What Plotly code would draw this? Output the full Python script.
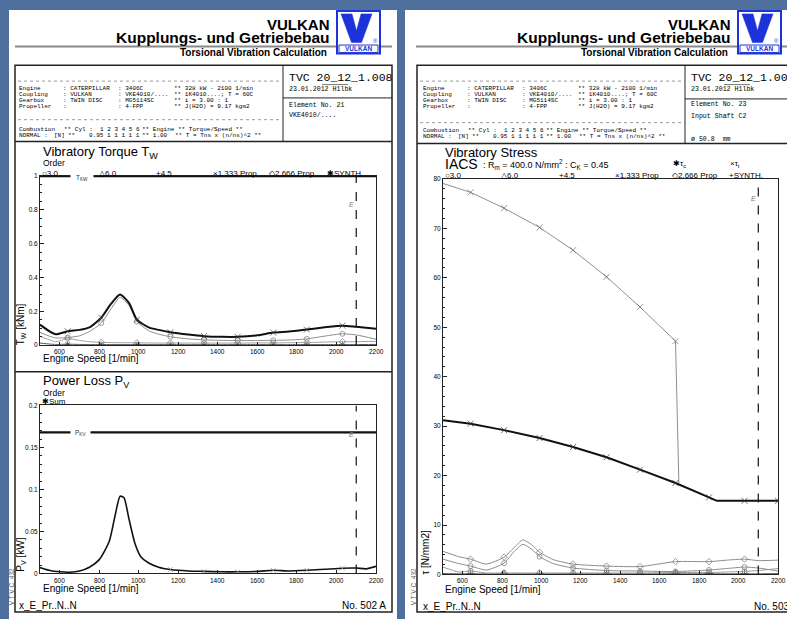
import plotly.graph_objects as go

SANS = "Liberation Sans, Arial, sans-serif"
MONO = "Liberation Mono, Courier New, monospace"

# ---------------- data ----------------
x_ticks = [600, 800, 1000, 1200, 1400, 1600, 1800, 2000, 2200]
rated_speed = 2100

# Chart 1: vibratory torque TW [kNm]
speed_tw = [500, 550, 580, 640, 700, 750, 810, 860, 905, 950, 990, 1050, 1100,
            1160, 1250, 1330, 1420, 1500, 1600, 1680, 1760, 1850, 1940, 2030, 2100, 2200]
tw_synth = [0.121, 0.080, 0.064, 0.082, 0.090, 0.105, 0.162, 0.245, 0.299, 0.250, 0.150, 0.105, 0.090,
            0.076, 0.062, 0.053, 0.049, 0.049, 0.058, 0.074, 0.080, 0.092, 0.105, 0.115, 0.108, 0.096]
tw_1333 = [0.075, 0.052, 0.042, 0.045, 0.055, 0.080, 0.130, 0.215, 0.283, 0.235, 0.140, 0.085, 0.065,
           0.049, 0.037, 0.031, 0.028, 0.027, 0.027, 0.028, 0.030, 0.037, 0.053, 0.067, 0.060, 0.035]
tw_2666 = [0.052, 0.030, 0.020, 0.038, 0.028, 0.020, 0.016, 0.015, 0.014, 0.014, 0.013, 0.013, 0.012,
           0.012, 0.012, 0.012, 0.012, 0.012, 0.013, 0.013, 0.014, 0.015, 0.018, 0.020, 0.020, 0.022]
tw_30 = [0.012, 0.006, 0.004, 0.005, 0.004, 0.003, 0.003, 0.003, 0.003, 0.003, 0.003, 0.003, 0.003,
         0.003, 0.003, 0.003, 0.003, 0.003, 0.003, 0.003, 0.003, 0.003, 0.003, 0.003, 0.003, 0.004]
mark_speeds = [640, 810, 990, 1160, 1330, 1500, 1680, 1850, 2030]
tkw_limit = 1.0

# Chart 2: power loss PV [kW]
speed_pv = [500, 550, 600, 650, 700, 750, 800, 850, 880, 905, 925, 950, 980, 1010, 1050,
            1100, 1160, 1250, 1330, 1420, 1500, 1600, 1680, 1760, 1850, 1940, 2030, 2100, 2150, 2200]
pv_sum = [0.0070, 0.0035, 0.0020, 0.0015, 0.0030, 0.0075, 0.0165, 0.0380, 0.0690, 0.0920, 0.0900,
          0.0650, 0.0360, 0.0200, 0.0125, 0.0075, 0.0047, 0.0030, 0.0025, 0.0020, 0.0020, 0.0025,
          0.0038, 0.0030, 0.0038, 0.0050, 0.0063, 0.0065, 0.0055, 0.0085]
pkv_limit = 0.168

# Chart 3: vibratory stress tau [N/mm2]
speed_tau_t = [500, 640, 810, 990, 1160, 1330, 1500, 1680, 1697]
tau_t = [79.1, 77.3, 74.1, 70.2, 65.6, 60.2, 54.1, 47.2, 18.4]
speed_tau_c = [500, 640, 810, 990, 1160, 1330, 1500, 1680, 1850, 1890, 2030, 2200]
tau_c = [31.2, 30.5, 29.2, 27.6, 25.8, 23.7, 21.2, 18.5, 15.6, 14.9, 14.9, 14.9]
speed_tau = [500, 580, 640, 720, 810, 860, 905, 950, 990, 1060, 1160, 1330, 1500, 1680, 1850, 1940, 2030, 2100, 2200]
tau_2666 = [4.7, 3.6, 3.1, 2.1, 3.5, 5.4, 7.0, 6.0, 4.5, 3.0, 2.1, 1.7, 1.6, 2.6, 2.6, 2.9, 3.1, 2.8, 2.9]
tau_1333 = [3.1, 2.2, 1.7, 0.9, 2.3, 4.6, 6.1, 5.1, 3.6, 2.2, 1.3, 0.8, 0.7, 0.6, 0.9, 1.2, 1.5, 1.3, 0.7]
tau_30 = [1.5, 0.5, 0.7, 0.3, 0.3, 0.3, 0.3, 0.3, 0.3, 0.3, 0.3, 0.3, 0.3, 0.4, 0.4, 0.5, 0.6, 0.8, 1.2]
tau_60 = [0.2, 0.15, 0.15, 0.15, 0.15, 0.15, 0.15, 0.15, 0.15, 0.15, 0.15, 0.15, 0.15, 0.15, 0.15, 0.15, 0.15, 0.15, 0.2]

# info block text
info_rows = [
    ["Engine", ": CATERPILLAR", ": 3406C", "** 328 kW - 2100 1/min"],
    ["Coupling", ": VULKAN", ": VKE4010/....", "** 1K4010....; T = 60C"],
    ["Gearbox", ": TWIN DISC", ": MG5114SC", "** i = 3.00 : 1"],
    ["Propeller", ":", ": 4-FPP", "** J(H2O) = 9.17 kgm2"],
]
comb_row = ["Combustion", "** Cyl :", "1 2 3 4 5 6", "** Engine ** Torque/Speed **"]
norm_row = ["NORMAL :", "[N]", "**", "0.95 1 1 1 1 1", "** 1.00", "** T = Tns x (n/ns)^2 **"]

# ---------------- helpers ----------------
W, H = 787, 619
BG = "#4f709c"
BLUE = "#1c33d9"
GRAY = "#8c8c8c"


def X(px):
    return px / W


def Y(py):
    return 1 - py / H


shapes = []
annotations = []


def line(x0, y0, x1, y1, color="#222", width=1, dash="solid"):
    shapes.append(dict(type="line", xref="paper", yref="paper", x0=X(x0), y0=Y(y0),
                       x1=X(x1), y1=Y(y1), line=dict(color=color, width=width, dash=dash)))


def rect(x0, y0, x1, y1, fill="rgba(0,0,0,0)", color="#222", width=1, layer="above"):
    shapes.append(dict(type="rect", xref="paper", yref="paper", x0=X(x0), y0=Y(y0),
                       x1=X(x1), y1=Y(y1), fillcolor=fill,
                       line=dict(color=color, width=width), layer=layer))


def text(px, py, s, size=8, anchor="left", family=SANS, color="black", angle=0, bg=None, pad=1):
    a = dict(xref="paper", yref="paper", x=X(px), y=Y(py), text=s, showarrow=False,
             xanchor=anchor, yanchor="middle", textangle=angle,
             font=dict(size=size, family=family, color=color), borderpad=pad)
    if bg:
        a["bgcolor"] = bg
    annotations.append(a)


def logo(x0):
    rect(x0, 7, x0 + 43, 50, fill="white", color=BLUE, width=2)
    pts = [(x0 + 4, 10), (x0 + 15, 10), (x0 + 19.5, 27), (x0 + 24, 10), (x0 + 35, 10),
           (x0 + 24.5, 39), (x0 + 14.5, 39)]
    path = "M " + " L ".join(f"{X(a)},{Y(b)}" for a, b in pts) + " Z"
    shapes.append(dict(type="path", xref="paper", yref="paper", path=path,
                       fillcolor=BLUE, line=dict(color=BLUE, width=0.5)))
    rect(x0 + 2, 41.5, x0 + 41, 49, fill="white", color=BLUE, width=1)
    text(x0 + 21.5, 45.5, "<b>VULKAN</b>", size=6.5, anchor="center", color=BLUE)
    text(x0 + 38, 37, "®", size=6, anchor="center", color=BLUE)


def header(dx):
    line(15 + dx, 43, 392 + dx + (10 if dx else 0), 43, color="#8a8a8a", width=2)
    text(332 + dx, 21, "<b>VULKAN</b>", size=15, anchor="right")
    text(332 + dx, 34, "<b>Kupplungs- und Getriebebau</b>", size=15.5, anchor="right")
    text(329 + dx, 49, "<b>Torsional Vibration Calculation</b>", size=10, anchor="right")
    logo(337 + dx)


MS = 6


def info_block(dx, ys, cy):
    cols = [17, 61, 116, 172]
    for row, yy in zip(info_rows, ys):
        for cx, s in zip(cols, row):
            text(cx + dx, yy, s, size=MS, family=MONO)
    for cx, s in zip([17, 62, 98, 140], comb_row):
        text(cx + dx, cy[0], s, size=MS, family=MONO)
    for cx, s in zip([17, 52, 66, 87, 140, 173], norm_row):
        text(cx + dx, cy[1], s, size=MS, family=MONO)


# ---------------- pages ----------------
rect(9, 6, 397, 630, fill="white", color="white", width=0, layer="below")
rect(405, 6, 800, 630, fill="white", color="white", width=0, layer="below")

# left page
header(0)
rect(15, 62, 392, 615, color="#222", width=1.5)
line(15, 139, 392, 139, width=1.5)
line(15, 372, 392, 372, width=1.5)
line(283, 62, 283, 139, width=1)
line(283, 95, 392, 95, width=1)
line(18, 78, 280, 78, color="#9a9a9a", width=1, dash="dot")
line(18, 117, 280, 117, color="#9a9a9a", width=1, dash="dot")
info_block(0, [85.5, 91.5, 97.5, 103.5], [127, 133])
text(287, 74, "TVC 20_12_1.008", size=11.5, family=MONO)
text(287, 86, "23.01.2012 H1lbk", size=6.6, family=MONO)
line(322, 81.5, 348, 81.5, color="#555", width=0.8)
text(287, 103, "Element No. 21", size=6.6, family=MONO)
text(287, 113, "VKE4010/....", size=6.6, family=MONO)

# right page
header(401)
rect(417, 62, 800, 615, color="#222", width=1.5)
line(417, 141, 800, 141, width=1.5)
line(685, 62, 685, 141, width=1)
line(685, 96, 800, 96, width=1)
line(420, 78, 682, 78, color="#9a9a9a", width=1, dash="dot")
line(420, 120, 682, 120, color="#9a9a9a", width=1, dash="dot")
info_block(404, [85.5, 91.5, 97.5, 103.5], [128, 134.5])
text(689, 74, "TVC 20_12_1.008", size=11.5, family=MONO)
text(689, 86, "23.01.2012 H1lbk", size=6.6, family=MONO)
line(724, 81.5, 750, 81.5, color="#555", width=0.8)
text(689, 102, "Element No. 23", size=6.6, family=MONO)
text(689, 114, "Input Shaft C2", size=6.6, family=MONO)
text(689, 137, "ø 50.8  mm", size=6.6, family=MONO)

# ---------------- chart texts ----------------
LEG = 8
# chart 1
text(41, 150, "Vibratory Torque T<sub>W</sub>", size=13)
text(41, 161, "Order", size=8.5)
for px, s in [(40, "○3.0"), (97, "△6.0"), (154, "+4.5"), (211, "×1.333 Prop"),
              (267, "◇2.666 Prop"), (325, "✱SYNTH.")]:
    text(px, 171.5, s, size=LEG)
text(82, 176, "T<sub>KW</sub>", size=6.5, anchor="center", bg="white", pad=5, color="#333")
text(21, 324, "T<sub>W</sub> [kNm]", size=10, anchor="center", angle=-90)
text(41, 359, "Engine Speed [1/min]", size=10)

# chart 2
text(41, 382, "Power Loss P<sub>V</sub>", size=13)
text(41, 393, "Order", size=8.5)
text(40, 402, "✱Sum", size=LEG)
text(80, 434, "P<sub>KV</sub>", size=6.5, anchor="center", bg="white", pad=4, color="#333")
text(21, 557, "P<sub>V</sub> [kW]", size=10, anchor="center", angle=-90)
text(41, 591, "Engine Speed [1/min]", size=10)
text(17, 608, "x_E_Pr..N..N", size=10)
text(388, 608, "No. 502 A", size=10, anchor="right")
text(11, 590, "V T V C  432", size=6.5, anchor="center", angle=-90, color="#555")

# chart 3
text(443, 150, "Vibratory Stress", size=13)
text(443, 162, "IACS", size=14)
text(481, 162, ": R<sub>m</sub> = 400.0 N/mm<sup>2</sup> : C<sub>K</sub> = 0.45", size=9)
text(671, 162, "✱τ<sub>c</sub>", size=LEG)
text(728, 162, "×τ<sub>t</sub>", size=LEG)
for px, s in [(443, "○3.0"), (499, "△6.0"), (557, "+4.5"), (613, "×1.333 Prop"),
              (670, "◇2.666 Prop"), (727, "+SYNTH.")]:
    text(px, 173, s, size=LEG)
text(426, 555, "τ [N/mm2]", size=10, anchor="center", angle=-90)
text(443, 592, "Engine Speed [1/min]", size=10)
text(421, 609, "x_E_Pr..N..N", size=10)
text(752, 609, "No. 503 A", size=10)
text(413, 590, "V T V C  432", size=6.5, anchor="center", angle=-90, color="#555")

# x tick labels (placed on the data scale of each x axis)
for xr, py in [("x", 351.5), ("x2", 583), ("x3", 583)]:
    for t in x_ticks:
        annotations.append(dict(xref=xr, yref="paper", x=t, y=Y(py), text=str(t), showarrow=False,
                                xanchor="center", yanchor="middle",
                                font=dict(size=6.5, family=SANS, color="black")))

# ---------------- traces ----------------
fig = go.Figure()


def curve(xs, ys, xa, ya, color, width, symbol, msize, mcolor, marks=mark_speeds, shape="spline"):
    sizes = [msize if s in marks else 0 for s in xs]
    ln = dict(color=color, width=width, shape=shape)
    if shape == "spline":
        ln["smoothing"] = 0.6
    fig.add_trace(go.Scatter(
        x=xs, y=ys, xaxis=xa, yaxis=ya, mode="lines+markers", line=ln,
        marker=dict(symbol=symbol, size=sizes, color=mcolor, line=dict(color=mcolor, width=1)),
        hoverinfo="skip"))


# chart 1
curve(speed_tw, tw_30, "x", "y", "#555", 1, "asterisk-open", 5, "#333")
curve(speed_tw, tw_2666, "x", "y", "#a0a0a0", 1, "diamond-open", 5, "#777")
curve(speed_tw, tw_1333, "x", "y", GRAY, 1, "circle-open", 5, "#777")
curve(speed_tw, tw_synth, "x", "y", "#111", 2, "x-thin-open", 6, "#444")
fig.add_trace(go.Scatter(x=[min(speed_tw), max(speed_tw)], y=[tkw_limit, tkw_limit],
                         xaxis="x", yaxis="y", mode="lines",
                         line=dict(color="#111", width=2.5), hoverinfo="skip"))

# chart 2
curve(speed_pv, pv_sum, "x2", "y2", "#111", 1.6, "x-thin-open", 5, "#999")
fig.add_trace(go.Scatter(x=[min(speed_pv), max(speed_pv)], y=[pkv_limit, pkv_limit],
                         xaxis="x2", yaxis="y2", mode="lines",
                         line=dict(color="#111", width=2.2), hoverinfo="skip"))

# chart 3
curve(speed_tau, tau_60, "x3", "y3", "#666", 1, "cross-thin-open", 6, "#222")
curve(speed_tau, tau_30, "x3", "y3", "#999", 1, "circle-open", 5, "#666")
curve(speed_tau, tau_1333, "x3", "y3", GRAY, 1, "circle-open", 5, "#777")
curve(speed_tau, tau_2666, "x3", "y3", GRAY, 1, "diamond-open", 5, "#777")
curve(speed_tau_t, tau_t, "x3", "y3", "#8f8f8f", 1, "x-thin-open", 6, "#666", shape="linear")
curve(speed_tau_c, tau_c, "x3", "y3", "#111", 2, "x-thin-open", 6, "#333",
      marks=mark_speeds + [2200], shape="linear")

# rated speed markers (dashed) and E labels
for xr, yr, top, ey in [("x", "y", 1.0, 0.83), ("x2", "y2", 0.2, 0.165), ("x3", "y3", 80.5, 76)]:
    shapes.append(dict(type="line", xref=xr, yref=yr, x0=rated_speed, x1=rated_speed, y0=0, y1=top,
                       line=dict(color="#111", width=1.2, dash="dash")))
    annotations.append(dict(xref=xr, yref=yr, x=rated_speed, y=ey, text="<i>E</i>", showarrow=False,
                            xanchor="right", yanchor="middle",
                            font=dict(size=7, family=SANS, color="#777")))

# ---------------- axes ----------------
tickfont = dict(size=6.5, family=SANS, color="black")


def xax(domain, anchor):
    return dict(domain=domain, anchor=anchor, range=[500, 2200], tickvals=x_ticks,
                ticks="inside", ticklen=3, tickcolor="#222", showline=True, linecolor="#222",
                linewidth=1, mirror=True, showgrid=False, zeroline=False, showticklabels=False,
                fixedrange=True)


def yax(domain, anchor, rng, dtick, minor):
    return dict(domain=domain, anchor=anchor, range=rng, dtick=dtick, tick0=0,
                ticks="inside", ticklen=4, tickcolor="#222", showline=True, linecolor="#222",
                linewidth=1, mirror=True, showgrid=False, zeroline=False, tickfont=tickfont,
                minor=dict(dtick=minor, ticks="inside", ticklen=2, tickcolor="#222", showgrid=False),
                fixedrange=True)


fig.update_layout(
    width=W, height=H, margin=dict(l=0, r=0, t=0, b=0),
    paper_bgcolor=BG, plot_bgcolor="rgba(0,0,0,0)", showlegend=False,
    font=dict(family=SANS, color="black"),
    xaxis=xax([X(40), X(376)], "y"),
    yaxis=yax([Y(345), Y(174)], "x", [0, 1], 0.2, 0.05),
    xaxis2=xax([X(40), X(376)], "y2"),
    yaxis2=yax([Y(576), Y(406)], "x2", [0, 0.2], 0.05, 0.01),
    xaxis3=xax([X(443), X(778)], "y3"),
    yaxis3=yax([Y(577), Y(177)], "x3", [0, 80], 10, 2),
    shapes=shapes, annotations=annotations,
)

fig.write_html(
    "out.html",
    config={"displayModeBar": False},
    post_script="document.body.style.margin='0';document.body.style.background='" + BG + "';"
                "document.body.style.overflow='hidden';",
)
